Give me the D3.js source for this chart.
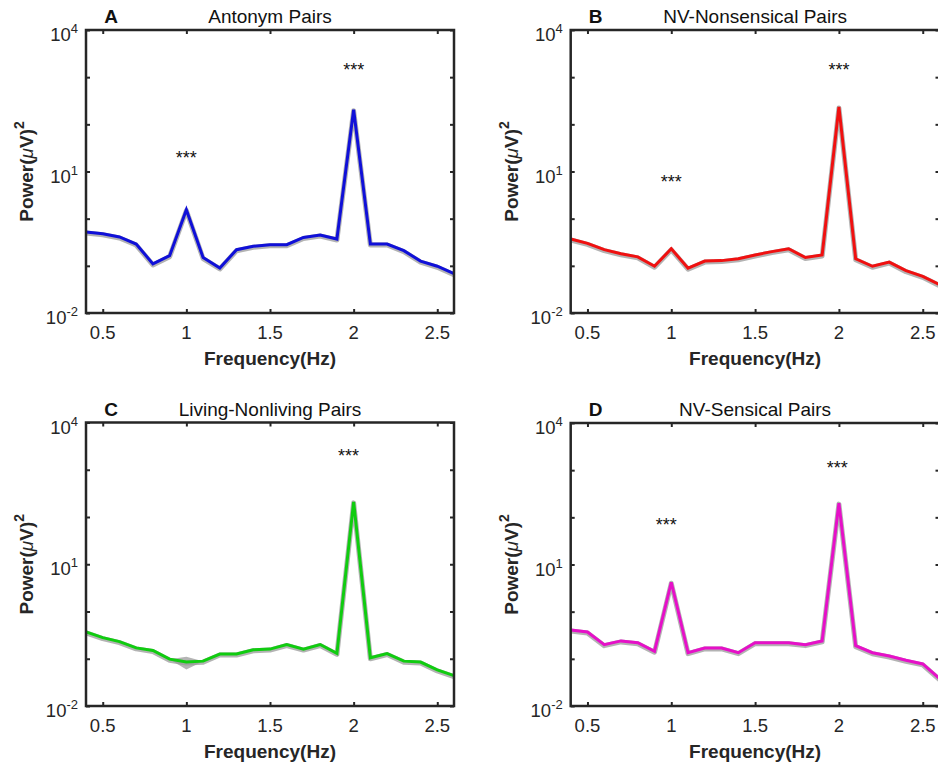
<!DOCTYPE html>
<html>
<head>
<meta charset="utf-8">
<script src="https://cdn.jsdelivr.net/npm/d3@7"></script>
<style>
  html, body { margin: 0; padding: 0; background: #fff; }
  svg { display: block; font-family: "Liberation Sans", Arial, Helvetica, sans-serif; }
</style>
</head>
<body>
<svg id="chart" width="938" height="765"></svg>
<script>
// ---------------- DATA ----------------
const frequencies = [0.4,0.5,0.6,0.7,0.8,0.9,1.0,1.1,1.2,1.3,1.4,1.5,1.6,1.7,1.8,1.9,2.0,2.1,2.2,2.3,2.4,2.5,2.6];

const antonymPower = [0.52,0.48,0.41,0.29,0.11,0.164,1.55,0.15,0.09,0.22,0.26,0.28,0.28,0.40,0.45,0.37,204,0.29,0.29,0.21,0.126,0.098,0.068];
const nonsensicalPower = [0.37,0.30,0.22,0.18,0.155,0.098,0.23,0.089,0.126,0.129,0.141,0.17,0.20,0.23,0.15,0.17,234,0.141,0.098,0.12,0.079,0.060,0.040];
const livingPower = [0.37,0.28,0.23,0.17,0.15,0.098,0.085,0.089,0.126,0.126,0.155,0.16,0.20,0.16,0.20,0.13,209,0.105,0.129,0.089,0.085,0.058,0.044];
const sensicalPower = [0.41,0.37,0.20,0.24,0.22,0.145,4.2,0.135,0.17,0.17,0.135,0.22,0.22,0.22,0.20,0.24,200,0.19,0.135,0.115,0.093,0.078,0.038];

// visible part of the shaded error band (Living-Nonliving, around 1 Hz)
const livingBandFreq = [0.9, 1.0, 1.1];
const livingBandLow  = [0.098, 0.059, 0.089];
const livingBandHigh = [0.098, 0.11, 0.089];

const panelLetters = ["A", "B", "C", "D"];
const panelTitles = ["Antonym Pairs", "NV-Nonsensical Pairs", "Living-Nonliving Pairs", "NV-Sensical Pairs"];
const panelColors = ["#1010d8", "#f01010", "#10cc10", "#e610c8"];

// significance markers: [frequency, power]
const starsA = [[1.0, 22], [2.0, 1660]];
const starsB = [[1.0, 6.8], [2.0, 1620]];
const starsC = [[1.97, 2290]];
const starsD = [[0.97, 81], [1.99, 1290]];

const xTicks = [0.5, 1, 1.5, 2, 2.5];
const xTickLabels = ["0.5", "1", "1.5", "2", "2.5"];
const yLabelTicks = [1e-2, 1e1, 1e4];
const yLabelExps = ["-2", "1", "4"];
const yMinorTicks = [1e-2, 1e-1, 1e0, 1e1, 1e2, 1e3, 1e4];
const xDomain = [0.4, 2.6];
const yDomain = [1e-2, 1e4];
const xAxisLabel = "Frequency(Hz)";

// ---------------- LAYOUT ----------------
const boxes = [
  {left: 86,    top: 30,  right: 454,   bottom: 313},
  {left: 570.7, top: 30,  right: 939.5, bottom: 313},
  {left: 86,    top: 422.5, right: 454,   bottom: 706},
  {left: 570.7, top: 423, right: 939.5, bottom: 706}
];
const series = [antonymPower, nonsensicalPower, livingPower, sensicalPower];
const stars = [starsA, starsB, starsC, starsD];
const bands = [null, null, {f: livingBandFreq, lo: livingBandLow, hi: livingBandHigh}, null];

const svg = d3.select("#chart");
const axisColor = "#262626";

boxes.forEach((b, i) => {
  const x = d3.scaleLinear().domain(xDomain).range([b.left, b.right]);
  const y = d3.scaleLog().domain(yDomain).range([b.bottom, b.top]);
  const g = svg.append("g");

  // error band
  if (bands[i]) {
    const bd = bands[i];
    const pts = bd.f.map((f, k) => ({f, lo: bd.lo[k], hi: bd.hi[k]}));
    g.append("path")
      .attr("d", d3.area().x(d => x(d.f)).y0(d => y(d.lo)).y1(d => y(d.hi))(pts))
      .attr("fill", "#b4b4b4");
  }

  const pts = frequencies.map((f, k) => [f, series[i][k]]);
  const line = d3.line().x(d => x(d[0])).y(d => y(d[1]));
  // gray shading under the mean line
  g.append("path").attr("d", line(pts))
    .attr("fill", "none").attr("stroke", "#9a9a9a").attr("stroke-opacity", 0.75)
    .attr("stroke-width", 5).attr("stroke-linejoin", "round")
    .attr("transform", "translate(0,1)");
  g.append("path").attr("d", line(pts))
    .attr("fill", "none").attr("stroke", panelColors[i])
    .attr("stroke-width", 3).attr("stroke-linejoin", "miter");

  // axes box
  g.append("rect")
    .attr("x", b.left).attr("y", b.top)
    .attr("width", b.right - b.left).attr("height", b.bottom - b.top)
    .attr("fill", "none").attr("stroke", axisColor).attr("stroke-width", 2.5);

  // x ticks (bottom + top, inward)
  const xa = d3.axisBottom(x).tickValues(xTicks).tickSize(-4).tickFormat("");
  g.append("g").attr("transform", `translate(0,${b.bottom})`).call(xa)
    .call(s => s.select(".domain").remove())
    .call(s => s.selectAll("line").attr("stroke", axisColor).attr("stroke-width", 2));
  const xt = d3.axisTop(x).tickValues(xTicks).tickSize(-4).tickFormat("");
  g.append("g").attr("transform", `translate(0,${b.top})`).call(xt)
    .call(s => s.select(".domain").remove())
    .call(s => s.selectAll("line").attr("stroke", axisColor).attr("stroke-width", 2));
  // y ticks (left + right, inward)
  const yl = d3.axisLeft(y).tickValues(yMinorTicks).tickSize(-4).tickFormat("");
  g.append("g").attr("transform", `translate(${b.left},0)`).call(yl)
    .call(s => s.select(".domain").remove())
    .call(s => s.selectAll("line").attr("stroke", axisColor).attr("stroke-width", 2));
  const yr = d3.axisRight(y).tickValues(yMinorTicks).tickSize(-4).tickFormat("");
  g.append("g").attr("transform", `translate(${b.right},0)`).call(yr)
    .call(s => s.select(".domain").remove())
    .call(s => s.selectAll("line").attr("stroke", axisColor).attr("stroke-width", 2));

  // x tick labels
  xTicks.forEach((t, k) => {
    g.append("text").attr("x", x(t)).attr("y", b.bottom + 26)
      .attr("text-anchor", "middle").attr("font-size", 18.5).attr("fill", axisColor)
      .text(xTickLabels[k]);
  });
  // y tick labels 10^n
  yLabelTicks.forEach((t, k) => {
    const tx = g.append("text").attr("x", b.left - 8).attr("y", y(t) + 11)
      .attr("text-anchor", "end").attr("font-size", 18.5).attr("fill", axisColor);
    tx.append("tspan").text("10");
    tx.append("tspan").attr("dy", -8).attr("font-size", 13).text(yLabelExps[k]);
  });

  // x axis label
  g.append("text").attr("x", (b.left + b.right) / 2).attr("y", b.bottom + 52)
    .attr("text-anchor", "middle").attr("font-size", 19).attr("font-weight", "bold")
    .attr("fill", axisColor).text(xAxisLabel);

  // y axis label
  const yt = g.append("text")
    .attr("transform", `translate(${b.left - 53},${(b.top + b.bottom) / 2}) rotate(-90)`)
    .attr("text-anchor", "middle").attr("font-size", 19).attr("font-weight", "bold")
    .attr("fill", axisColor);
  yt.append("tspan").text("Power(");
  yt.append("tspan").attr("font-style", "italic").attr("font-weight", "normal").text("\u03bc");
  yt.append("tspan").text("V)");
  yt.append("tspan").attr("dy", -9).attr("font-size", 14).text("2");

  // title and panel letter
  g.append("text").attr("x", (b.left + b.right) / 2).attr("y", b.top - 7)
    .attr("text-anchor", "middle").attr("font-size", 19).attr("fill", "#111")
    .text(panelTitles[i]);
  g.append("text").attr("x", b.left + 25).attr("y", b.top - 7)
    .attr("text-anchor", "middle").attr("font-size", 19).attr("font-weight", "bold")
    .attr("fill", "#111").text(panelLetters[i]);

  // significance stars
  stars[i].forEach(s => {
    g.append("text").attr("x", x(s[0])).attr("y", y(s[1]) + 9)
      .attr("text-anchor", "middle").attr("font-size", 18).attr("fill", "#111")
      .text("***");
  });
});
</script>
</body>
</html>
